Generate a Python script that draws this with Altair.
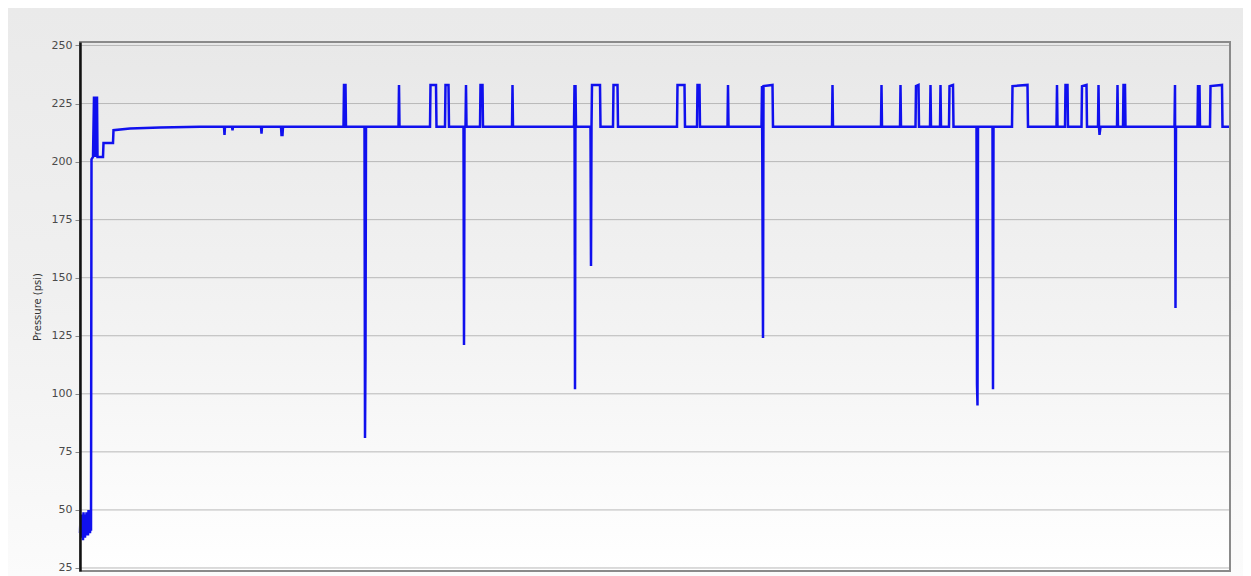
import altair as alt
import pandas as pd

# Elapsed time (arbitrary units, no axis shown) and pressure readings (psi)
time_u = [
    80, 80.5, 81, 81.5, 82, 82.5, 83, 83.5, 84, 84.5, 85, 85.5, 86, 86.5, 87, 87.5,
    88, 88.5, 89, 89.5, 90, 90.5, 91,
    91.5, 93, 94, 94.5, 95, 95.5, 96, 96.5, 97, 97.5, 103, 103.5, 113, 113.5, 130, 160, 200,
    224, 224.5, 225, 232, 232.5, 233, 261, 261.5, 262, 281, 281.5, 282.5, 283,
    343.5, 344, 345.5, 346,
    364.5, 365, 365.5, 366,
    398.5, 399, 399.5,
    430, 430.5, 436, 436.5,
    445, 445.5, 448.5, 449,
    463.5, 464, 464.5, 465.5, 466, 466.5,
    480, 480.5, 482.5, 483,
    512, 512.5, 513,
    574, 574.5, 575, 575.5, 576,
    590.5, 591, 591.5, 592, 600, 600.5, 613, 613.5, 617.5, 618,
    677, 677.5, 684.5, 685,
    697, 697.5, 699.5, 700,
    727.5, 728, 728.5,
    761.5, 762, 763, 763.5, 772.5, 773,
    832, 832.5, 833,
    881, 881.5, 882,
    900, 900.5, 901,
    915.5, 916, 918.5, 919,
    930, 930.5, 931,
    940, 940.5, 941,
    949, 949.5, 953, 953.5,
    976.5, 977, 977.5, 978,
    992.5, 993, 993.5,
    1012, 1012.5, 1027.5, 1028,
    1056.5, 1057, 1057.5,
    1065, 1065.5, 1067.5, 1068,
    1081.5, 1082, 1086.5, 1087,
    1098, 1098.5, 1099, 1099.5, 1100.5,
    1117, 1117.5, 1118,
    1123, 1123.5, 1125, 1125.5,
    1174.5, 1175, 1175.5, 1176,
    1197.5, 1198, 1198.5, 1199.5, 1200,
    1210, 1210.5, 1222, 1222.5, 1229,
]
pressure_psi = [
    40, 47, 38, 48, 39, 46, 37, 49, 40, 47, 38, 48, 39, 49, 40, 47,
    39, 50, 41, 48, 40, 49, 41,
    201, 202, 228, 202, 228, 202, 228, 202, 228, 202, 202, 208, 208, 213.5, 214.3, 214.7, 215,
    215, 211.5, 215, 215, 213.5, 215, 215, 212, 215, 215, 211.5, 211.5, 215,
    215, 233, 233, 215,
    215, 81, 116, 215,
    215, 233, 215,
    215, 233, 233, 215,
    215, 233, 233, 215,
    215, 121, 215, 215, 233, 215,
    215, 233, 233, 215,
    215, 233, 215,
    215, 233, 102, 233, 215,
    215, 155, 215, 233, 233, 215, 215, 233, 233, 215,
    215, 233, 233, 215,
    215, 233, 233, 215,
    215, 233, 215,
    215, 232.5, 124, 232.5, 233, 215,
    215, 233, 215,
    215, 233, 215,
    215, 233, 215,
    215, 232.5, 233, 215,
    215, 233, 215,
    215, 233, 215,
    215, 232.5, 233, 215,
    215, 104, 95, 215,
    215, 102, 215,
    215, 232.5, 233, 215,
    215, 233, 215,
    215, 233, 233, 215,
    215, 232.5, 233, 215,
    215, 233, 215, 211.5, 215,
    215, 233, 215,
    215, 233, 233, 215,
    215, 233, 137, 215,
    215, 233, 215, 233, 215,
    215, 232.5, 233, 215, 215,
]
tick_values = [25, 50, 75, 100, 125, 150, 175, 200, 225, 250]

assert len(time_u) == len(pressure_psi)

df = pd.DataFrame({"t": time_u, "p": pressure_psi, "i": list(range(len(time_u)))})
grid_df = pd.DataFrame({"v": tick_values})

W, H = 1150, 529
x_scale = alt.Scale(domain=[80, 1230], nice=False, zero=False)
y_scale = alt.Scale(domain=[23.7, 251.5], nice=False, zero=False)

y_axis = alt.Axis(values=tick_values, title="Pressure (psi)", grid=False, zindex=2,
                  domainColor="#111111", domainWidth=2.5,
                  tickColor="#888888", tickSize=5, tickWidth=1,
                  labelFont="DejaVu Sans", labelFontSize=11, labelColor="#4a4a4a",
                  labelPadding=3,
                  titleFont="DejaVu Sans", titleFontSize=10, titleFontWeight="normal",
                  titleColor="#333333", titlePadding=9)

outer_bg = alt.Chart(grid_df).mark_rect(
    fill=alt.Gradient(gradient="linear", x1=0, x2=0, y1=0, y2=1,
                      stops=[alt.GradientStop(color="#eaeaea", offset=0),
                             alt.GradientStop(color="#f0f0f0", offset=0.5),
                             alt.GradientStop(color="#fbfbfb", offset=1)])
).encode(x=alt.value(-72), x2=alt.value(W + 13), y=alt.value(-34), y2=alt.value(H + 5))

plot_bg = alt.Chart(grid_df).mark_rect(
    fill=alt.Gradient(gradient="linear", x1=0, x2=0, y1=0, y2=1,
                      stops=[alt.GradientStop(color="#e8e8e8", offset=0),
                             alt.GradientStop(color="#f2f2f2", offset=0.5),
                             alt.GradientStop(color="#ffffff", offset=1)])
).encode(x=alt.value(0), x2=alt.value(W), y=alt.value(0), y2=alt.value(H))

grid = alt.Chart(grid_df).mark_rule(color="#b8b8b8", strokeWidth=1).encode(
    y=alt.Y("v:Q", scale=y_scale, axis=y_axis)
)

line = alt.Chart(df).mark_line(color="#1010ee", strokeWidth=2.5, strokeJoin="miter", interpolate="linear").encode(
    x=alt.X("t:Q", scale=x_scale, axis=None),
    y=alt.Y("p:Q", scale=y_scale, axis=y_axis),
    order=alt.Order("i:Q"),
)

frame = alt.Chart(grid_df).mark_rect(fill=None, fillOpacity=0, stroke="#8a8a8a", strokeWidth=1.5).encode(
    x=alt.value(0), x2=alt.value(W), y=alt.value(0), y2=alt.value(H)
)

chart = alt.layer(outer_bg, plot_bg, grid, line, frame).properties(
    width=W, height=H,
    autosize=alt.AutoSizeParams(type="none"),
    padding={"left": 72, "top": 34, "right": 13, "bottom": 5},
    background="#ededed",
).configure_view(stroke=None)

chart.save("out.html", embed_options={"renderer": "svg", "actions": False})
